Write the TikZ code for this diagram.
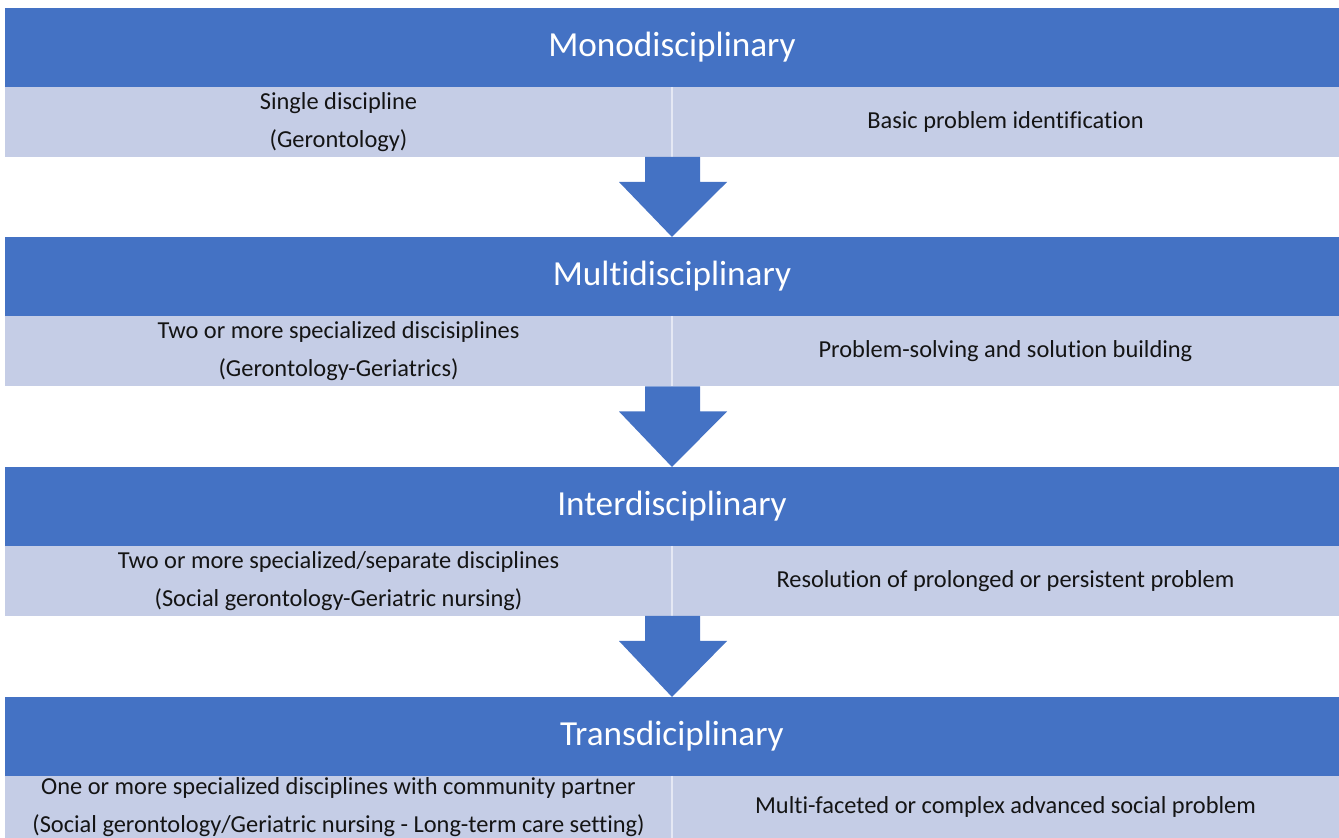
\documentclass[tikz,border=0pt]{standalone}
\usepackage{fontspec}
\setmainfont{Carlito}[Ligatures=NoCommon]
\usetikzlibrary{calc}
\tikzset{dadpx/.style={x=0.5pt,y=-0.5pt}}
\definecolor{azul}{HTML}{4472C4}
\definecolor{claro}{HTML}{C5CDE6}
\definecolor{texto}{HTML}{141414}
\tikzset{
  cabec/.style={fill=azul,text=white,minimum width=667pt,minimum height=39.5pt,inner sep=0pt,outer sep=0pt,font=\fontsize{17.6}{20}\selectfont},
  celula/.style={fill=claro,text=texto,minimum width=333.5pt,minimum height=35pt,inner sep=0pt,outer sep=0pt,align=center,font=\fontsize{12.2}{19}\selectfont},
  divisa/.style={draw=white!55!claro,line width=0.6pt},
  seta/.style={fill=azul},
}
\begin{document}
\begin{tikzpicture}[dadpx]
  \useasboundingbox (0,0) rectangle (1339,838);
  % --- monodisciplinar
  \node[cabec] (cab1) at (672,47.5) {Monodisciplinary};
  \node[celula] (esq1) at (338.5,122) {Single discipline\\(Gerontology)};
  \node[celula] (dir1) at (1005.5,122) {Basic problem identification};
  \draw[divisa] (esq1.north east) -- (esq1.south east);
  % --- multidisciplinar
  \node[cabec] (cab2) at (672,276.5) {Multidisciplinary};
  \node[celula] (esq2) at (338.5,351.5) {Two or more specialized discisiplines\\(Gerontology-Geriatrics)};
  \node[celula] (dir2) at (1005.5,351.5) {Problem-solving and solution building};
  \draw[divisa] (esq2.north east) -- (esq2.south east);
  % --- interdisciplinar
  \node[cabec] (cab3) at (672,506.5) {Interdisciplinary};
  \node[celula] (esq3) at (338.5,581) {Two or more specialized/separate disciplines\\(Social gerontology-Geriatric nursing)};
  \node[celula] (dir3) at (1005.5,581) {Resolution of prolonged or persistent problem};
  \draw[divisa] (esq3.north east) -- (esq3.south east);
  % --- transdisciplinar (corta na borda)
  \node[cabec] (cab4) at (672,736.5) {Transdiciplinary};
  \node[celula,minimum height=31pt] (esq4) at (338.5,807) {One or more specialized disciplines with community partner\\(Social gerontology/Geriatric nursing - Long-term care setting)};
  \node[celula,minimum height=31pt] (dir4) at (1005.5,807) {Multi-faceted or complex advanced social problem};
  \draw[divisa] (esq4.north east) -- (esq4.south east);
  % --- setas entre os níveis
  \fill[seta] ($(esq1.south east)+(-27,0)$) -- ($(esq1.south east)+(28,0)$) -- ($(esq1.south east)+(28,25)$)
    -- ($(esq1.south east)+(55,25)$) -- (cab2.north) -- ($(esq1.south east)+(-53,25)$) -- ($(esq1.south east)+(-27,25)$) -- cycle;
  \fill[seta] ($(esq2.south east)+(-27,0)$) -- ($(esq2.south east)+(28,0)$) -- ($(esq2.south east)+(28,25)$)
    -- ($(esq2.south east)+(55,25)$) -- (cab3.north) -- ($(esq2.south east)+(-53,25)$) -- ($(esq2.south east)+(-27,25)$) -- cycle;
  \fill[seta] ($(esq3.south east)+(-27,0)$) -- ($(esq3.south east)+(28,0)$) -- ($(esq3.south east)+(28,25)$)
    -- ($(esq3.south east)+(55,25)$) -- (cab4.north) -- ($(esq3.south east)+(-53,25)$) -- ($(esq3.south east)+(-27,25)$) -- cycle;
\end{tikzpicture}
\end{document}
